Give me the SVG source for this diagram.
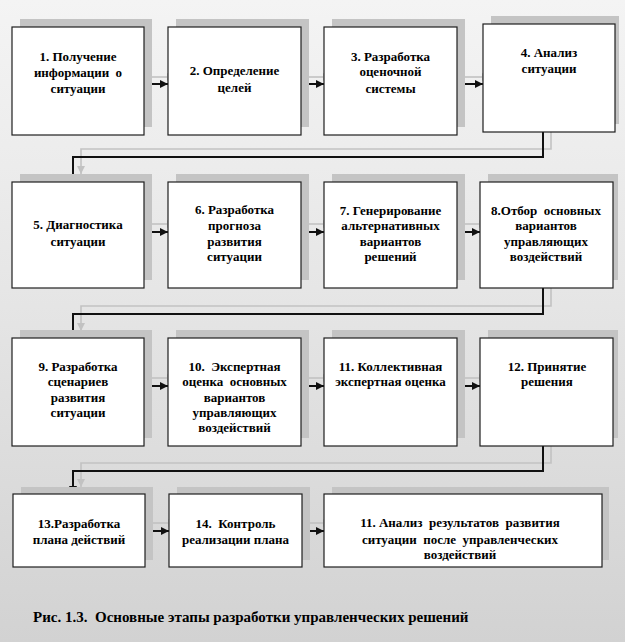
<svg xmlns="http://www.w3.org/2000/svg" width="625" height="642" viewBox="0 0 625 642">
<defs>
<linearGradient id="bg" x1="0" y1="0" x2="0" y2="1">
<stop offset="0" stop-color="#f4f4f4"/>
<stop offset="0.45" stop-color="#e6e6e6"/>
<stop offset="1" stop-color="#d2d2d2"/>
</linearGradient>
<marker id="ah" markerUnits="userSpaceOnUse" markerWidth="9" markerHeight="9" refX="8" refY="4" orient="auto">
<path d="M0,0 L8,4 L0,8 z" fill="#111"/>
</marker>
<marker id="ahs" markerUnits="userSpaceOnUse" markerWidth="9" markerHeight="9" refX="8" refY="4" orient="auto">
<path d="M0,0 L8,4 L0,8 z" fill="#c2c2c2"/>
</marker>
<style>
.sh{fill:#c4c4c4}
.bx{fill:#ffffff;stroke:#1e1e1e;stroke-width:1.2}
.t{font-family:"Liberation Serif","Times New Roman","DejaVu Serif",serif;font-size:13px;font-weight:bold;fill:#000;text-anchor:middle;white-space:pre}
.cap{font-family:"Liberation Serif","Times New Roman","DejaVu Serif",serif;font-size:15px;font-weight:bold;fill:#000;white-space:pre}
.c{fill:none;stroke:#111;stroke-width:2;marker-end:url(#ah)}
.cs{fill:none;stroke:#c2c2c2;stroke-width:1.6;marker-end:url(#ahs)}
</style>
</defs>
<rect x="0" y="0" width="625" height="642" fill="url(#bg)"/>

<g id="connectors">
<line class="cs" x1="151" y1="77" x2="175" y2="77"/>
<line class="cs" x1="308" y1="77" x2="331" y2="77"/>
<line class="cs" x1="464" y1="77" x2="490" y2="77"/>
<polyline class="cs" points="551,125 551,149 81,149 81,174"/>
<line class="cs" x1="151" y1="224" x2="175" y2="224"/>
<line class="cs" x1="308" y1="224" x2="331" y2="224"/>
<line class="cs" x1="464" y1="224" x2="487" y2="224"/>
<polyline class="cs" points="551,281 551,306 81,306 81,331"/>
<line class="cs" x1="151" y1="378" x2="175" y2="378"/>
<line class="cs" x1="308" y1="378" x2="331" y2="378"/>
<line class="cs" x1="464" y1="378" x2="487" y2="378"/>
<polyline class="cs" points="551,439 551,463 81,463 81,487"/>
<line class="cs" x1="152" y1="523" x2="176" y2="523"/>
<line class="cs" x1="309" y1="523" x2="331" y2="523"/>
<line class="c" x1="144" y1="84" x2="168" y2="84"/>
<line class="c" x1="301" y1="84" x2="324" y2="84"/>
<line class="c" x1="457" y1="84" x2="483" y2="84"/>
<polyline class="c" points="543,132 543,157 73,157 73,182"/>
<line class="c" x1="144" y1="232" x2="168" y2="232"/>
<line class="c" x1="301" y1="232" x2="324" y2="232"/>
<line class="c" x1="457" y1="232" x2="480" y2="232"/>
<polyline class="c" points="543,288 543,314 73,314 73,338"/>
<line class="c" x1="144" y1="386" x2="168" y2="386"/>
<line class="c" x1="301" y1="386" x2="324" y2="386"/>
<line class="c" x1="457" y1="386" x2="480" y2="386"/>
<polyline class="c" points="543,446 543,471 73,471 73,494"/>
<line class="c" x1="145" y1="531" x2="169" y2="531"/>
<line class="c" x1="302" y1="531" x2="324" y2="531"/>
</g>

<g id="n1">
<rect class="sh" x="20" y="19" width="132" height="108"/>
<rect class="bx" x="12" y="27" width="132" height="108"/>
<text class="t" x="78" y="61">1. Получение</text>
<text class="t" x="78" y="77">информации  о</text>
<text class="t" x="78" y="93">ситуации</text>
</g>
<g id="n2">
<rect class="sh" x="176" y="19" width="133" height="108"/>
<rect class="bx" x="168" y="27" width="133" height="108"/>
<text class="t" x="234.5" y="75">2. Определение</text>
<text class="t" x="234.5" y="92">целей</text>
</g>
<g id="n3">
<rect class="sh" x="332" y="19" width="133" height="108"/>
<rect class="bx" x="324" y="27" width="133" height="108"/>
<text class="t" x="390.5" y="61">3. Разработка</text>
<text class="t" x="390.5" y="76">оценочной</text>
<text class="t" x="390.5" y="93">системы</text>
</g>
<g id="n4">
<rect class="sh" x="491" y="16" width="128" height="108"/>
<rect class="bx" x="483" y="24" width="132" height="108"/>
<text class="t" x="549" y="57">4. Анализ</text>
<text class="t" x="549" y="73">ситуации</text>
</g>

<g id="n5">
<rect class="sh" x="20" y="174" width="132" height="106"/>
<rect class="bx" x="12" y="182" width="132" height="106"/>
<text class="t" x="78" y="229">5. Диагностика</text>
<text class="t" x="78" y="246">ситуации</text>
</g>
<g id="n6">
<rect class="sh" x="176" y="174" width="133" height="106"/>
<rect class="bx" x="168" y="182" width="133" height="106"/>
<text class="t" x="234.5" y="214">6. Разработка</text>
<text class="t" x="234.5" y="230">прогноза</text>
<text class="t" x="234.5" y="246">развития</text>
<text class="t" x="234.5" y="261">ситуации</text>
</g>
<g id="n7">
<rect class="sh" x="332" y="174" width="133" height="106"/>
<rect class="bx" x="324" y="182" width="133" height="106"/>
<text class="t" x="390.5" y="215">7. Генерирование</text>
<text class="t" x="390.5" y="230">альтернативных</text>
<text class="t" x="390.5" y="246">вариантов</text>
<text class="t" x="390.5" y="261">решений</text>
</g>
<g id="n8">
<rect class="sh" x="488" y="174" width="130" height="106"/>
<rect class="bx" x="480" y="182" width="133" height="106"/>
<text class="t" x="546" y="215">8.Отбор  основных</text>
<text class="t" x="546" y="230">вариантов</text>
<text class="t" x="546" y="246">управляющих</text>
<text class="t" x="546" y="261">воздействий</text>
</g>

<g id="n9">
<rect class="sh" x="20" y="330" width="132" height="108"/>
<rect class="bx" x="12" y="338" width="132" height="108"/>
<text class="t" x="78" y="371">9. Разработка</text>
<text class="t" x="78" y="386">сценариев</text>
<text class="t" x="78" y="402">развития</text>
<text class="t" x="78" y="417">ситуации</text>
</g>
<g id="n10">
<rect class="sh" x="176" y="330" width="133" height="108"/>
<rect class="bx" x="168" y="338" width="133" height="108"/>
<text class="t" x="234.5" y="371">10.  Экспертная</text>
<text class="t" x="234.5" y="386">оценка  основных</text>
<text class="t" x="234.5" y="402">вариантов</text>
<text class="t" x="234.5" y="417">управляющих</text>
<text class="t" x="234.5" y="432">воздействий</text>
</g>
<g id="n11">
<rect class="sh" x="332" y="330" width="133" height="108"/>
<rect class="bx" x="324" y="338" width="133" height="108"/>
<text class="t" x="390.5" y="371">11. Коллективная</text>
<text class="t" x="390.5" y="386">экспертная оценка</text>
</g>
<g id="n12">
<rect class="sh" x="488" y="330" width="130" height="108"/>
<rect class="bx" x="480" y="338" width="133" height="108"/>
<text class="t" x="547" y="371">12. Принятие</text>
<text class="t" x="547" y="386">решения</text>
</g>

<g id="n13">
<rect class="sh" x="21" y="487" width="132" height="73"/>
<rect class="bx" x="13" y="494" width="132" height="73"/>
<text class="t" x="79" y="528">13.Разработка</text>
<text class="t" x="79" y="544">плана действий</text>
</g>
<g id="n14">
<rect class="sh" x="177" y="487" width="133" height="73"/>
<rect class="bx" x="169" y="494" width="133" height="73"/>
<text class="t" x="235.5" y="528">14.  Контроль</text>
<text class="t" x="235.5" y="544">реализации плана</text>
</g>
<g id="n15">
<rect class="sh" x="332" y="487" width="277" height="73"/>
<rect class="bx" x="324" y="494" width="278" height="73"/>
<text class="t" x="460" y="527">11. Анализ  результатов  развития</text>
<text class="t" x="460" y="544">ситуации  после  управленческих</text>
<text class="t" x="460" y="559">воздействий</text>
</g>

<text class="cap" x="33" y="622">Рис. 1.3.  Основные этапы разработки управленческих решений</text>
</svg>
